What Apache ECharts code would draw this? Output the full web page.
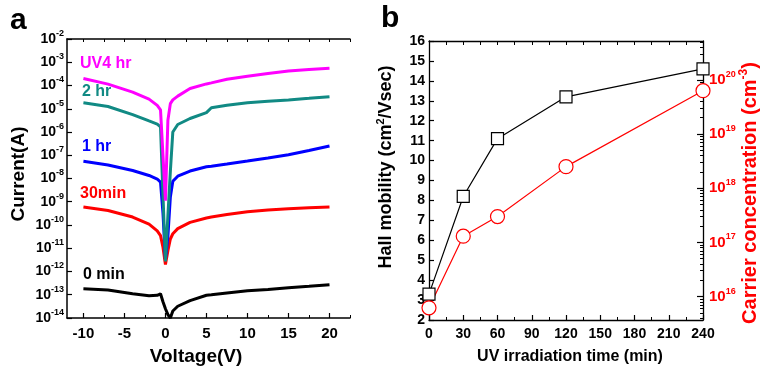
<!DOCTYPE html>
<html>
<head>
<meta charset="utf-8">
<script src="https://cdn.jsdelivr.net/npm/echarts@6/dist/echarts.min.js"></script>
<style>
  html, body { margin: 0; padding: 0; background: #fff; }
  #chart { width: 763px; height: 370px; }
</style>
</head>
<body>
<div id="chart"></div>
<script>
// panel a: I-V curves after UV exposure
const voltage = [-10, -7, -4, -2, -1, -0.6, -0.3, 0, 0.3, 0.6, 0.9, 1.5, 3, 5, 5.6, 7.5, 10, 12.5, 15, 17.5, 20];
const current4hr = [2.0e-4, 1.15e-4, 5.2e-5, 2.6e-5, 1.4e-5, 9.0e-6, 1.0e-7, 1.1e-9, 3.2e-6, 1.66e-5, 2.4e-5, 3.5e-5, 7.4e-5, 1.17e-4, 1.3e-4, 1.86e-4, 2.5e-4, 3.3e-4, 4.2e-4, 4.9e-4, 5.5e-4];
const current2hr = [1.8e-5, 1.25e-5, 5.6e-6, 3.0e-6, 2.2e-6, 1.66e-6, 2.0e-9, 2.7e-12, 2.5e-10, 2.0e-8, 1.0e-6, 2.1e-6, 3.8e-6, 6.8e-6, 1.1e-5, 1.4e-5, 1.8e-5, 2.1e-5, 2.4e-5, 2.8e-5, 3.3e-5];
const current1hr = [5.5e-8, 3.8e-8, 2.2e-8, 1.35e-8, 9.5e-9, 7.0e-9, 3.2e-10, 3.2e-12, 3.2e-11, 1.6e-9, 7.6e-9, 1.26e-8, 2.1e-8, 3.2e-8, 3.4e-8, 4.2e-8, 5.6e-8, 7.6e-8, 1.05e-7, 1.6e-7, 2.5e-7];
const current30min = [6e-10, 4.2e-10, 2.2e-10, 1.1e-10, 5.6e-11, 3.5e-11, 1.1e-11, 2e-12, 7.9e-12, 2.5e-11, 4.2e-11, 7e-11, 1.3e-10, 2e-10, 2.2e-10, 2.8e-10, 3.7e-10, 4.4e-10, 5e-10, 5.5e-10, 6e-10];
const current0min = [1.8e-13, 1.6e-13, 1.1e-13, 9.1e-14, 9.5e-14, 1.1e-13, 5.0e-14, 2.5e-14, 1.4e-14, 1.0e-14, 2.0e-14, 3.2e-14, 5.6e-14, 9.5e-14, 1.0e-13, 1.2e-13, 1.5e-13, 1.7e-13, 2.0e-13, 2.3e-13, 2.7e-13];

const voltTicks = [-10, -5, 0, 5, 10, 15, 20];
const voltMinorTicks = [-7.5, -2.5, 2.5, 7.5, 12.5, 17.5, 22.5];
const currentTicks = [1e-14, 1e-13, 1e-12, 1e-11, 1e-10, 1e-9, 1e-8, 1e-7, 1e-6, 1e-5, 1e-4, 1e-3, 1e-2];

// panel b: Hall data vs UV time
const uvTime = [0, 30, 60, 120, 240];
const hallMobility = [3.3, 8.2, 11.1, 13.2, 14.6];
const carrierConc = [6.2e15, 1.3e17, 3.0e17, 2.5e18, 6.3e19];
const concTicks = [1e16, 1e17, 1e18, 1e19, 1e20];

const concMinorTicks = [];
for (let e = 15; e <= 20; e++) {
  for (let k = 2; k <= 9; k++) concMinorTicks.push(k * Math.pow(10, e));
}

const FONT = '"Liberation Sans", Arial, sans-serif';

function pow10Label(v) {
  return '{b|10}{s|' + Math.round(Math.log10(v)) + '}';
}

function pairs(xs, ys) {
  return xs.map((x, i) => [x, ys[i]]);
}

const chart = echarts.init(document.getElementById('chart'));

const lineStyleAxis = { color: '#000', width: 1.5 };

const option = {
  animation: false,
  backgroundColor: '#fff',
  textStyle: { fontFamily: FONT },
  grid: [
    { left: 67, top: 39, width: 283, height: 279 },
    { left: 429, top: 41, width: 274, height: 279 }
  ],
  xAxis: [
    {
      gridIndex: 0, type: 'value', position: 'bottom', min: -12, max: 22.5,
      axisLine: { onZero: false, lineStyle: lineStyleAxis },
      axisTick: { inside: true, length: 5, customValues: voltTicks, lineStyle: { color: '#000', width: 1.2 } },
      axisLabel: { customValues: voltTicks, color: '#000', fontSize: 15, fontWeight: 'bold', margin: 8, fontFamily: FONT },
      splitLine: { show: false }
    },
    {
      gridIndex: 0, type: 'value', position: 'bottom', min: -12, max: 22.5,
      axisLine: { show: false, onZero: false },
      axisTick: { inside: true, length: 3, customValues: voltMinorTicks, lineStyle: { color: '#000', width: 1 } },
      axisLabel: { show: false },
      splitLine: { show: false }
    },
    {
      gridIndex: 0, type: 'value', position: 'top', min: -12, max: 22.5,
      axisLine: { onZero: false, lineStyle: lineStyleAxis },
      axisTick: { inside: true, length: 3, customValues: voltTicks.concat(voltMinorTicks), lineStyle: { color: '#000', width: 1 } },
      axisLabel: { show: false },
      splitLine: { show: false }
    },
    {
      gridIndex: 1, type: 'value', position: 'bottom', min: 0, max: 240, interval: 30,
      axisLine: { onZero: false, lineStyle: { color: '#000', width: 1.3 } },
      axisTick: { inside: true, length: 5, lineStyle: { color: '#000', width: 1.2 } },
      minorTick: { show: true, splitNumber: 2, length: 3, lineStyle: { color: '#000', width: 1 } },
      axisLabel: { color: '#000', fontSize: 14, fontWeight: 'bold', margin: 7, fontFamily: FONT },
      splitLine: { show: false }
    },
    {
      gridIndex: 1, type: 'value', position: 'top', min: 0, max: 240, interval: 30,
      axisLine: { onZero: false, lineStyle: { color: '#000', width: 1.3 } },
      axisTick: { inside: true, length: 4, lineStyle: { color: '#000', width: 1 } },
      minorTick: { show: true, splitNumber: 2, length: 4, lineStyle: { color: '#000', width: 1 } },
      axisLabel: { show: false },
      splitLine: { show: false }
    }
  ],
  yAxis: [
    {
      gridIndex: 0, type: 'log', position: 'left', min: 1e-14, max: 1e-2,
      axisLine: { onZero: false, lineStyle: lineStyleAxis },
      axisTick: { inside: true, length: 5, customValues: currentTicks, lineStyle: { color: '#000', width: 1.2 } },
      axisLabel: {
        customValues: currentTicks, margin: 3, formatter: pow10Label,
        rich: {
          b: { fontSize: 14, fontWeight: 'bold', color: '#000', fontFamily: FONT },
          s: { fontSize: 9, fontWeight: 'bold', color: '#000', fontFamily: FONT, padding: [0, 0, 11, 0] }
        }
      },
      splitLine: { show: false }
    },
    {
      gridIndex: 1, type: 'value', position: 'left', min: 2, max: 16, interval: 1,
      axisLine: { onZero: false, lineStyle: { color: '#000', width: 1.3 } },
      axisTick: { inside: true, length: 5, lineStyle: { color: '#000', width: 1.2 } },
      axisLabel: { color: '#000', fontSize: 14, fontWeight: 'bold', margin: 4, fontFamily: FONT },
      splitLine: { show: false }
    },
    {
      gridIndex: 1, type: 'log', position: 'right', min: 3.7e15, max: 5.2e20,
      axisLine: { onZero: false, lineStyle: { color: '#000', width: 1.3 } },
      axisTick: { inside: true, length: 6, customValues: concTicks, lineStyle: { color: '#000', width: 1.2 } },
      axisLabel: {
        customValues: concTicks, margin: 6, formatter: pow10Label,
        rich: {
          b: { fontSize: 15, fontWeight: 'bold', color: '#f00', fontFamily: FONT },
          s: { fontSize: 9, fontWeight: 'bold', color: '#f00', fontFamily: FONT, padding: [0, 0, 11, 0] }
        }
      },
      splitLine: { show: false }
    },
    {
      gridIndex: 1, type: 'log', position: 'right', min: 3.7e15, max: 5.2e20,
      axisLine: { show: false, onZero: false },
      axisTick: { inside: true, length: 3, customValues: concMinorTicks, lineStyle: { color: '#000', width: 1 } },
      axisLabel: { show: false },
      splitLine: { show: false }
    }
  ],
  series: [
    { type: 'line', xAxisIndex: 0, yAxisIndex: 0, data: pairs(voltage, current0min), showSymbol: false, lineStyle: { color: '#000', width: 3 } },
    { type: 'line', xAxisIndex: 0, yAxisIndex: 0, data: pairs(voltage, current30min), showSymbol: false, lineStyle: { color: '#ff0000', width: 3 } },
    { type: 'line', xAxisIndex: 0, yAxisIndex: 0, data: pairs(voltage, current1hr), showSymbol: false, lineStyle: { color: '#0000ff', width: 3 } },
    { type: 'line', xAxisIndex: 0, yAxisIndex: 0, data: pairs(voltage, current2hr), showSymbol: false, lineStyle: { color: '#118a84', width: 3 } },
    { type: 'line', xAxisIndex: 0, yAxisIndex: 0, data: pairs(voltage, current4hr), showSymbol: false, lineStyle: { color: '#ff00ff', width: 3 } },
    {
      type: 'line', xAxisIndex: 3, yAxisIndex: 1, data: pairs(uvTime, hallMobility),
      symbol: 'rect', symbolSize: 12, clip: false,
      lineStyle: { color: '#000', width: 1.2 },
      itemStyle: { color: '#fff', borderColor: '#000', borderWidth: 1.2 }
    },
    {
      type: 'line', xAxisIndex: 3, yAxisIndex: 2, data: pairs(uvTime, carrierConc),
      symbol: 'circle', symbolSize: 14, clip: false,
      lineStyle: { color: '#f00', width: 1.2 },
      itemStyle: { color: '#fff', borderColor: '#f00', borderWidth: 1.2 }
    }
  ],
  graphic: [
    { type: 'text', left: 10, top: 6, style: { text: 'a', font: 'bold 30px ' + FONT, fill: '#000' } },
    { type: 'text', left: 381, top: 4, style: { text: 'b', font: 'bold 30px ' + FONT, fill: '#000' } },
    { type: 'text', x: 80, y: 64, style: { text: 'UV4 hr', font: 'bold 16px ' + FONT, fill: '#ff00ff', verticalAlign: 'middle' } },
    { type: 'text', x: 82, y: 92, style: { text: '2 hr', font: 'bold 16px ' + FONT, fill: '#118a84', verticalAlign: 'middle' } },
    { type: 'text', x: 82, y: 147, style: { text: '1 hr', font: 'bold 16px ' + FONT, fill: '#0000ff', verticalAlign: 'middle' } },
    { type: 'text', x: 80, y: 194, style: { text: '30min', font: 'bold 16px ' + FONT, fill: '#ff0000', verticalAlign: 'middle' } },
    { type: 'text', x: 83, y: 275, style: { text: '0 min', font: 'bold 16px ' + FONT, fill: '#000', verticalAlign: 'middle' } },
    { type: 'text', x: 196, y: 357, style: { text: 'Voltage(V)', font: 'bold 19px ' + FONT, fill: '#000', align: 'center', verticalAlign: 'middle' } },
    { type: 'text', x: 19, y: 174, rotation: Math.PI / 2, style: { text: 'Current(A)', font: 'bold 19px ' + FONT, fill: '#000', align: 'center', verticalAlign: 'middle' } },
    { type: 'text', x: 570, y: 357, style: { text: 'UV irradiation time (min)', font: 'bold 16px ' + FONT, fill: '#000', align: 'center', verticalAlign: 'middle' } },
    {
      type: 'text', x: 386, y: 167, rotation: Math.PI / 2,
      style: {
        text: '{a|Hall mobility (cm}{s|2}{a|/Vsec)}', align: 'center', verticalAlign: 'middle',
        rich: {
          a: { font: 'bold 18px ' + FONT, fill: '#000' },
          s: { font: 'bold 11px ' + FONT, fill: '#000', padding: [0, 0, 10, 0] }
        }
      }
    },
    {
      type: 'text', x: 750, y: 193, rotation: Math.PI / 2,
      style: {
        text: '{a|Carrier concentration (cm}{s|-3}{a|)}', align: 'center', verticalAlign: 'middle',
        rich: {
          a: { font: 'bold 20px ' + FONT, fill: '#f00' },
          s: { font: 'bold 12px ' + FONT, fill: '#f00', padding: [0, 0, 12, 0] }
        }
      }
    }
  ]
};

chart.setOption(option);
</script>
</body>
</html>
